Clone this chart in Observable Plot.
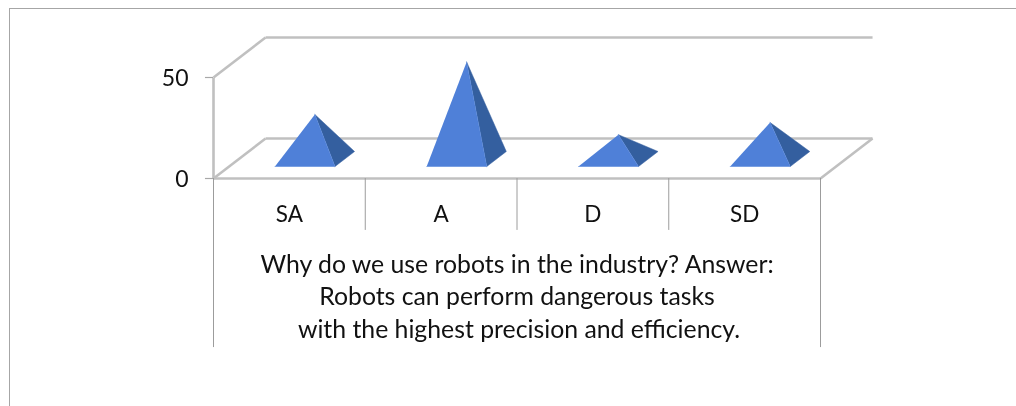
<!DOCTYPE html>
<html>
<head>
<meta charset="utf-8">
<script src="https://cdn.jsdelivr.net/npm/d3@7"></script>
<script src="https://cdn.jsdelivr.net/npm/@observablehq/plot@0.6"></script>
<style>
html,body{margin:0;padding:0;background:#fff;overflow:hidden}
#frame{position:absolute;left:9px;top:8px;width:1100px;height:500px;border-left:1px solid #a6a6a6;border-top:1.5px solid #a6a6a6;box-sizing:border-box}
#chart{position:absolute;left:0;top:0}
</style>
</head>
<body>
<div id="frame"></div>
<div id="chart"></div>
<script>
const categories = ["SA", "A", "D", "SD"];
const values = [22, 48, 12, 18];
const yTicks = [0, 50];
const titleLines = [
  "Why do we use robots in the industry? Answer:",
  "Robots can perform dangerous tasks",
  "with the highest precision and efficiency."
];

// Oblique projection of the 3D box, in data units
const depthX = 0.343, depthY = 19.8;
const project = (x, depth, v) => ({x: x + depth * depthX, y: v + depth * depthY});
const halfBase = 0.198, baseFront = 0.3, baseBack = 0.675, baseMid = 0.49;

const faces = categories.flatMap((c, i) => {
  const cx = i + 0.5, v = values[i];
  const fl = project(cx - halfBase, baseFront, 0);
  const fr = project(cx + halfBase, baseFront, 0);
  const br = project(cx + halfBase, baseBack, 0);
  const apex = project(cx, baseMid, v);
  return [
    {id: c + "-side", face: "side", ...fr}, {id: c + "-side", face: "side", ...br}, {id: c + "-side", face: "side", ...apex},
    {id: c + "-front", face: "front", ...fl}, {id: c + "-front", face: "front", ...fr}, {id: c + "-front", face: "front", ...apex}
  ];
});

const seg = (a, b) => ({x1: a.x, y1: a.y, x2: b.x, y2: b.y});
const n = categories.length, yMax = yTicks[1];
const walls = [
  seg(project(0, 0, 0), project(n, 0, 0)),
  seg(project(n, 0, 0), project(n, 1, 0)),
  seg(project(n, 1, 0), project(0, 1, 0)),
  seg(project(0, 1, 0), project(0, 0, 0)),
  seg(project(0, 0, 0), project(0, 0, yMax)),
  seg(project(0, 0, yMax), project(0, 1, yMax)),
  seg(project(0, 1, yMax), project(n, 1, yMax))
];
const tableBottom = -83.7, rowBottom = -25.7;
const centers = categories.map((c, i) => ({c, x: i + 0.5}));

const font = "Lato, Carlito, Calibri, sans-serif";
const soft = "blur(0.45px)";
const titleMark = (i, dy, dx) => Plot.text([titleLines[i]], {x: n / 2, y: 0, text: d => d, dx, dy, fontSize: 24.8, fill: "#111", imageFilter: "blur(0.25px)"});

const plot = Plot.plot({
  width: 1016, height: 406,
  margin: 0,
  style: {background: "transparent", fontFamily: font, overflow: "visible"},
  x: {type: "linear", domain: [0, n], range: [213, 820], axis: null},
  y: {type: "linear", domain: [0, 50], range: [178, 77], axis: null},
  marks: [
    Plot.link(walls, {x1: "x1", y1: "y1", x2: "x2", y2: "y2", stroke: "#c0c0c0", strokeWidth: 2.6, imageFilter: soft}),
    Plot.ruleX([0, n], {x: d => d, y1: 0, y2: tableBottom, stroke: "#9c9c9c", strokeWidth: 1}),
    Plot.ruleX([1, 2, 3], {x: d => d, y1: 0, y2: rowBottom, stroke: "#9c9c9c", strokeWidth: 1}),
    Plot.ruleY(yTicks, {y: d => d, x1: -0.053, x2: 0, stroke: "#a8a8a8", strokeWidth: 1.2}),
    Plot.line(faces.filter(d => d.face === "side"), {x: "x", y: "y", z: "id", fill: "#345f9f", stroke: "#345f9f", strokeWidth: 0.5, imageFilter: soft}),
    Plot.line(faces.filter(d => d.face === "front"), {x: "x", y: "y", z: "id", fill: "#4f80d8", stroke: "#4f80d8", strokeWidth: 0.5, imageFilter: soft}),
    Plot.text(yTicks, {x: 0, y: d => d, text: d => String(d), dx: -25, dy: 1, textAnchor: "end", fontSize: 23, fill: "#111", imageFilter: "blur(0.25px)"}),
    Plot.text(centers, {x: "x", y: 0, text: "c", dy: 36.7, fontSize: 22.5, fill: "#111", imageFilter: "blur(0.25px)"}),
    titleMark(0, 87, 0), titleMark(1, 119, 0), titleMark(2, 151.5, 2)
  ]
});
document.getElementById("chart").appendChild(plot);
</script>
</body>
</html>
